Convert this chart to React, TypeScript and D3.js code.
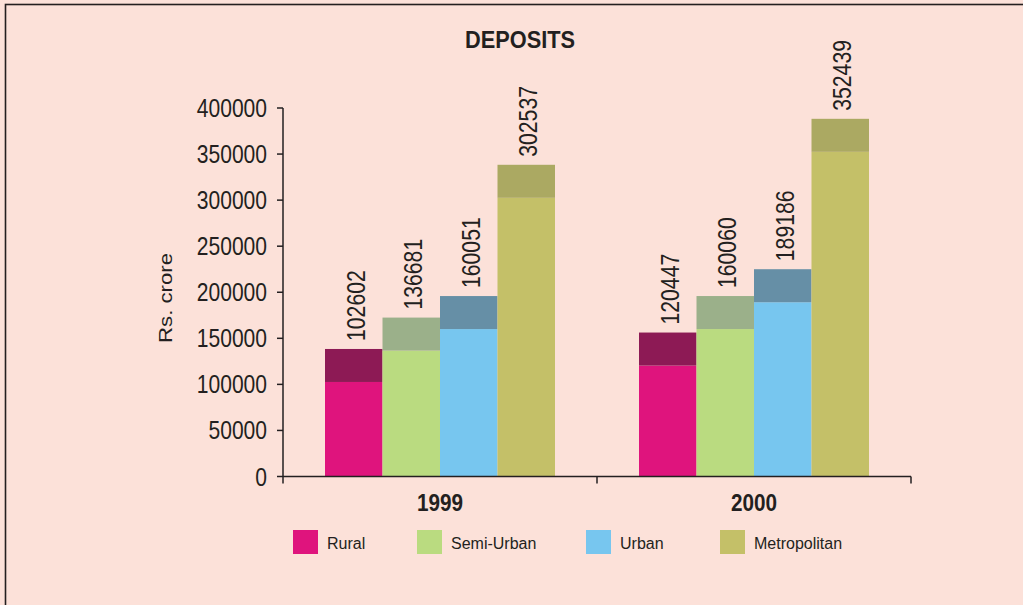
import React, { useRef, useEffect } from 'react';
import * as d3 from 'd3';

const years = ['1999', '2000'];
const seriesNames = ['Rural', 'Semi-Urban', 'Urban', 'Metropolitan'];
const values1999 = [102602, 136681, 160051, 302537];
const values2000 = [120447, 160060, 189186, 352439];
const yTicks = [0, 50000, 100000, 150000, 200000, 250000, 300000, 350000, 400000];

const frontColors = ['#DF147D', '#BADB80', '#77C6EF', '#C4C068'];
const topColors = ['#8D1A55', '#9BB08A', '#668FA6', '#ABA962'];
const legendX = [293, 417, 586, 720];

const W = 1023;
const H = 605;
const ink = '#231F20';
const font = '"Liberation Sans", Arial, sans-serif';

const App = () => {
  const svgRef = useRef<SVGSVGElement>(null);

  useEffect(() => {
    const svg = d3.select(svgRef.current);
    svg.selectAll('*').remove();

    const rows = [values1999, values2000];
    const x0 = 283, x1 = 911, yBase = 476.5, yTop = 108;
    const depth = 33;

    const y = d3.scaleLinear().domain([0, 400000]).range([yBase, yTop]);
    const xYear = d3.scaleBand().domain(years).range([x0, x1]).padding(0);
    const groupPad = 42;
    const xSeries = d3.scaleBand()
      .domain(seriesNames)
      .range([groupPad, xYear.bandwidth() - groupPad])
      .padding(0);

    svg.append('rect')
      .attr('x', 0).attr('y', 0).attr('width', W).attr('height', H)
      .attr('fill', '#FCE1D9');

    // frame, running off the right and bottom edges
    svg.append('rect')
      .attr('x', 5.5).attr('y', 4.5).attr('width', 1200).attr('height', 800)
      .attr('fill', 'none').attr('stroke', ink).attr('stroke-width', 1.6);

    svg.append('text')
      .attr('x', 520).attr('y', 48)
      .attr('text-anchor', 'middle')
      .attr('textLength', 110).attr('lengthAdjust', 'spacingAndGlyphs')
      .style('font-family', font).style('font-size', '24px').style('font-weight', 'bold')
      .style('fill', ink)
      .text('DEPOSITS');

    // bars
    years.forEach((year, yi) => {
      const g = svg.append('g').attr('transform', `translate(${xYear(year)},0)`);
      rows[yi].forEach((v, si) => {
        const bx = xSeries(seriesNames[si])!;
        const bw = xSeries.bandwidth();
        g.append('rect')
          .attr('x', bx).attr('y', y(v)).attr('width', bw).attr('height', yBase - y(v))
          .attr('fill', frontColors[si]);
        g.append('rect')
          .attr('x', bx).attr('y', y(v) - depth).attr('width', bw).attr('height', depth)
          .attr('fill', topColors[si]);
        const label = String(v);
        const cx = bx + bw / 2 + 11;
        const ly = y(v) - depth - 8;
        g.append('text')
          .attr('transform', `translate(${cx},${ly}) rotate(-90)`)
          .attr('textLength', label.length * 11.8).attr('lengthAdjust', 'spacingAndGlyphs')
          .style('font-family', font).style('font-size', '25px')
          .style('fill', ink)
          .text(label);
      });
    });

    // y axis
    const axisG = svg.append('g');
    axisG.append('line')
      .attr('x1', x0).attr('x2', x0).attr('y1', yTop).attr('y2', yBase)
      .attr('stroke', ink).attr('stroke-width', 1.5);
    yTicks.forEach(t => {
      axisG.append('line')
        .attr('x1', x0 - 6).attr('x2', x0).attr('y1', y(t)).attr('y2', y(t))
        .attr('stroke', ink).attr('stroke-width', 1.5);
      const label = String(t);
      axisG.append('text')
        .attr('x', 267).attr('y', y(t) + 9)
        .attr('text-anchor', 'end')
        .attr('textLength', label.length * 11.7).attr('lengthAdjust', 'spacingAndGlyphs')
        .style('font-family', font).style('font-size', '25px')
        .style('fill', ink)
        .text(label);
    });

    svg.append('text')
      .attr('transform', `translate(172,298) rotate(-90)`)
      .attr('text-anchor', 'middle')
      .attr('textLength', 90).attr('lengthAdjust', 'spacingAndGlyphs')
      .style('font-family', font).style('font-size', '19px')
      .style('fill', ink)
      .text('Rs. crore');

    // x axis
    axisG.append('line')
      .attr('x1', x0).attr('x2', x1).attr('y1', yBase).attr('y2', yBase)
      .attr('stroke', ink).attr('stroke-width', 1.5);
    [x0, ...years.map(yr => xYear(yr)! + xYear.bandwidth())].forEach(tx => {
      axisG.append('line')
        .attr('x1', tx).attr('x2', tx).attr('y1', yBase).attr('y2', yBase + 7)
        .attr('stroke', ink).attr('stroke-width', 1.5);
    });
    years.forEach(yr => {
      axisG.append('text')
        .attr('x', xYear(yr)! + xYear.bandwidth() / 2).attr('y', 511)
        .attr('text-anchor', 'middle')
        .attr('textLength', 46).attr('lengthAdjust', 'spacingAndGlyphs')
        .style('font-family', font).style('font-size', '23px').style('font-weight', 'bold')
        .style('fill', ink)
        .text(yr);
    });

    // legend
    seriesNames.forEach((name, i) => {
      const lg = svg.append('g').attr('transform', `translate(${legendX[i]},530)`);
      lg.append('rect')
        .attr('width', 25).attr('height', 24)
        .attr('fill', frontColors[i]);
      lg.append('text')
        .attr('x', 34).attr('y', 19)
        .style('font-family', font).style('font-size', '16px')
        .style('fill', ink)
        .text(name);
    });
  }, []);

  return (
    <div style={{ position: 'absolute', left: 0, top: 0 }}>
      <svg ref={svgRef} width={W} height={H} style={{ display: 'block' }}></svg>
    </div>
  );
};

export default App;
